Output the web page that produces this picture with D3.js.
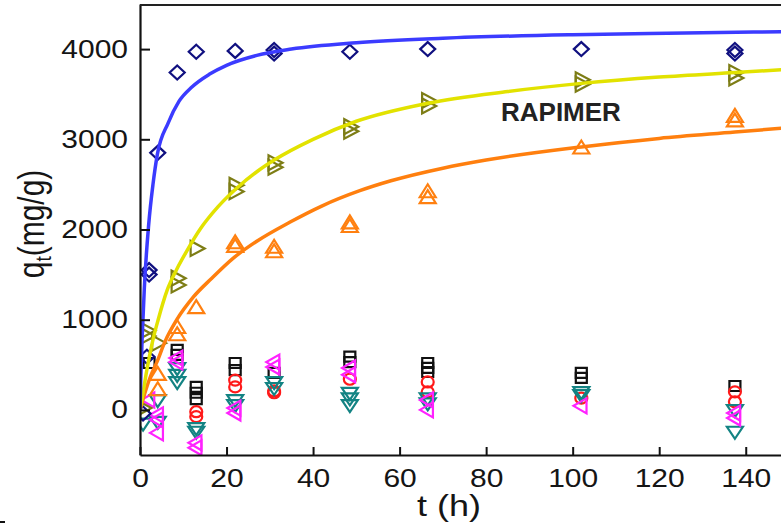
<!DOCTYPE html>
<html>
<head>
<meta charset="utf-8">
<script src="https://cdn.jsdelivr.net/npm/d3@7"></script>
<style>
  body { margin: 0; background: #fff; overflow: hidden; }
  svg { display: block; font-family: "Liberation Sans", Arial, sans-serif; }
</style>
</head>
<body>
<script>
// sampling times (h)
var times = [0.7, 1.6, 2.1, 4.1, 8.6, 13, 22, 31, 48.5, 66.5, 102, 137.5];

// measured qt (mg/g), replicates per time
var blueQ    = [[-40], [590], [1550, 1500], [2850], [3740], [3970], [3980], [3990, 3950], [3970], [4000], [4000], [3990, 3950]];
var oliveQ   = [[20], [880, 820], [], [740], [1460, 1385], [1790], [2490, 2420], [2740, 2690], [3140, 3090], [3430, 3370], [3660, 3610], [3740, 3680]];
var orangeQ  = [[], [], [], [390, 220], [910, 830], [1130], [1850, 1810], [1800, 1750], [2070, 2030], [2415, 2350], [2900], [3250, 3200]];
var blackQ   = [[], [], [520], [], [665, 610], [255, 190, 120], [520, 440], [410], [590, 530], [520, 465, 420], [410, 355], [265]];
var redQ     = [[], [], [], [], [], [-20, -75], [330, 255], [210, 190], [340], [310, 200], [130], [200, 90]];
var tealQ    = [[-150], [], [], [110, -130], [465, 390, 310], [-200, -240], [110, 55], [310, 245], [190, 130, 55], [130, 75], [200, 165], [0, -240]];
var magentaQ = [[], [], [110], [-55, -110, -255], [575, 530], [-365, -420], [20, -35], [530, 475], [465, 390], [110, 0], [45], [-35, -90]];

// fitted curves
var blueFitT   = [0, 0.2, 0.5, 1, 2, 3, 4, 6.5, 9, 12, 16, 20, 27, 35, 50, 70, 100, 130, 150];
var blueFitQ   = [0, 380, 800, 1350, 2050, 2500, 2830, 3180, 3420, 3580, 3720, 3820, 3930, 4000, 4070, 4120, 4160, 4180, 4195];
var yellowFitT = [0, 0.7, 1.5, 3, 4.2, 6.3, 8.5, 10.8, 14, 18, 22.4, 27, 31, 40, 50, 66.5, 85, 102, 120, 137.5, 150];
var yellowFitQ = [0, 190, 420, 780, 1000, 1330, 1560, 1760, 2010, 2250, 2460, 2640, 2770, 3000, 3200, 3400, 3530, 3620, 3690, 3740, 3775];
var orangeFitT = [0, 1.2, 2.5, 3.9, 5.8, 8.5, 12.3, 16.6, 21.5, 27, 34.6, 42, 50.8, 58, 70, 80, 102, 120, 137.5, 150];
var orangeFitQ = [0, 200, 380, 530, 760, 1000, 1250, 1460, 1680, 1870, 2080, 2260, 2430, 2540, 2680, 2770, 2915, 3010, 3080, 3130];

var xTicks = [0, 20, 40, 60, 80, 100, 120, 140];
var yTicks = [0, 1000, 2000, 3000, 4000];

var W = 781, H = 526;
var svg = d3.select("body").append("svg").attr("width", W).attr("height", H);

var x = d3.scaleLinear().domain([0, 150]).range([140, 789]);
var y = d3.scaleLinear().domain([-500, 4500]).range([455, 4]);

svg.append("clipPath").attr("id", "plot")
  .append("rect").attr("x", 140).attr("y", 4).attr("width", 650).attr("height", 451);

// marker shapes, w/h in px
var shapes = {
  diamond: function(w, h){ return "M0," + (-h/2) + "L" + (w/2) + ",0L0," + (h/2) + "L" + (-w/2) + ",0Z"; },
  up:      function(w, h){ return "M0," + (-h*0.6) + "L" + (w/2) + "," + (h*0.4) + "L" + (-w/2) + "," + (h*0.4) + "Z"; },
  down:    function(w, h){ return "M0," + (h*0.6) + "L" + (w/2) + "," + (-h*0.4) + "L" + (-w/2) + "," + (-h*0.4) + "Z"; },
  right:   function(w, h){ return "M" + (w*0.6) + ",0L" + (-w*0.4) + "," + (h/2) + "L" + (-w*0.4) + "," + (-h/2) + "Z"; },
  left:    function(w, h){ return "M" + (-w*0.6) + ",0L" + (w*0.4) + "," + (h/2) + "L" + (w*0.4) + "," + (-h/2) + "Z"; },
  square:  function(w, h){ return "M" + (-w/2) + "," + (-h/2) + "h" + w + "v" + h + "h" + (-w) + "Z"; }
};

var flat = function(vals){
  var pts = [];
  vals.forEach(function(reps, i){
    reps.forEach(function(v){ pts.push([times[i], v]); });
  });
  return pts;
};

var series = [
  {vals: blackQ,   color: "#111111", shape: "square",  w: 11, h: 10},
  {vals: redQ,     color: "#ff1a1a", shape: "circle",  w: 12, h: 11},
  {vals: tealQ,    color: "#138383", shape: "down",    w: 16, h: 12},
  {vals: magentaQ, color: "#ff22ff", shape: "left",    w: 13, h: 15},
  {vals: blueQ,    color: "#101080", shape: "diamond", w: 15, h: 14},
  {vals: oliveQ,   color: "#7d7d15", shape: "right",   w: 14, h: 15},
  {vals: orangeQ,  color: "#ff8010", shape: "up",      w: 16, h: 13}
];

var plot = svg.append("g").attr("clip-path", "url(#plot)");

series.forEach(function(s){
  var g = plot.append("g");
  var pts = flat(s.vals);
  if (s.shape == "circle") {
    g.selectAll("ellipse").data(pts).enter().append("ellipse")
      .attr("cx", function(d){ return x(d[0]); })
      .attr("cy", function(d){ return y(d[1]); })
      .attr("rx", s.w/2).attr("ry", s.h/2)
      .style("fill", "none").style("stroke", s.color).style("stroke-width", 2.2);
  } else {
    g.selectAll("path").data(pts).enter().append("path")
      .attr("transform", function(d){ return "translate(" + x(d[0]) + "," + y(d[1]) + ")"; })
      .attr("d", shapes[s.shape](s.w, s.h))
      .style("fill", "none").style("stroke", s.color).style("stroke-width", 2.2)
      .style("stroke-linejoin", "miter");
  }
});

var line = d3.line()
  .x(function(d){ return x(d[0]); })
  .y(function(d){ return y(d[1]); })
  .curve(d3.curveMonotoneX);

var fits = [
  {t: orangeFitT, q: orangeFitQ, color: "#ff7f0e"},
  {t: yellowFitT, q: yellowFitQ, color: "#e2e200"},
  {t: blueFitT,   q: blueFitQ,   color: "#3b3bff"}
];
fits.forEach(function(f){
  plot.append("path")
    .datum(f.t.map(function(t, i){ return [t, f.q[i]]; }))
    .attr("d", line)
    .style("fill", "none").style("stroke", f.color).style("stroke-width", 3.5);
});

// axes
var xAxis = svg.append("g").attr("transform", "translate(0,455)")
  .call(d3.axisBottom(x).tickValues(xTicks).tickFormat(d3.format("d"))
    .tickSizeInner(-8).tickSizeOuter(0).tickPadding(14));
var yAxis = svg.append("g").attr("transform", "translate(140,0)")
  .call(d3.axisLeft(y).tickValues(yTicks).tickFormat(d3.format("d"))
    .tickSizeInner(-10).tickSizeOuter(0).tickPadding(10));

[xAxis, yAxis].forEach(function(a){
  a.select(".domain").style("stroke", "#111").style("stroke-width", 2.2);
  a.selectAll(".tick line").style("stroke", "#111").style("stroke-width", 2);
  a.selectAll(".tick text")
    .style("font-family", "'Liberation Sans', Arial, sans-serif")
    .style("font-size", "25px").style("fill", "#151515")
    .attr("transform", "scale(1.2,1)");
});

// top frame
svg.append("line").attr("x1", 140).attr("x2", 789).attr("y1", 5).attr("y2", 5)
  .style("stroke", "#222").style("stroke-width", 2);

// titles
var yt = svg.append("text")
  .attr("transform", "translate(31,224) scale(1.2,1) rotate(-90)")
  .attr("text-anchor", "middle").attr("dy", "0.35em")
  .style("font-size", "30px").style("fill", "#151515");
yt.append("tspan").text("q");
yt.append("tspan").attr("dy", 6).style("font-size", "19px").text("t");
yt.append("tspan").attr("dy", -6).text("(mg/g)");

svg.append("text")
  .attr("transform", "translate(449,516) scale(1.2,1)")
  .attr("text-anchor", "middle")
  .style("font-size", "30px").style("fill", "#151515")
  .text("t (h)");

svg.append("text")
  .attr("x", 501).attr("y", 121)
  .style("font-size", "26px").style("font-weight", "bold").style("fill", "#222")
  .text("RAPIMER");

// stray mark at the corner of the source image
svg.append("line").attr("x1", 0).attr("x2", 5).attr("y1", 522).attr("y2", 522)
  .style("stroke", "#111").style("stroke-width", 2);
</script>
</body>
</html>
